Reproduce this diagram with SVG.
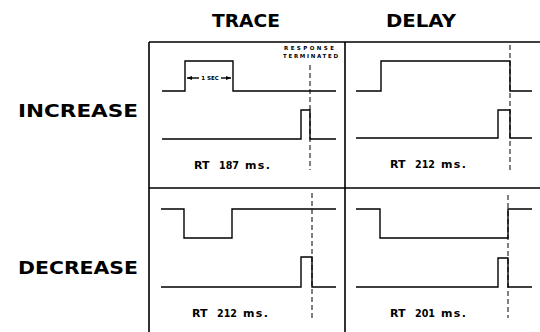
<svg xmlns="http://www.w3.org/2000/svg" width="540" height="332" viewBox="0 0 540 332">
<style>
.hd{font-family:"DejaVu Sans",Verdana,sans-serif;font-weight:bold;font-size:18px;fill:#000}
.rl{font-family:"DejaVu Sans",Verdana,sans-serif;font-weight:bold;font-size:17px;fill:#000}
.rt{font-family:"DejaVu Sans",Verdana,sans-serif;font-weight:bold;font-size:11px;fill:#000}
.sm{font-family:"DejaVu Sans",Verdana,sans-serif;font-weight:bold;font-size:5.5px;fill:#000}
.grid{stroke:#000;stroke-width:1.6;fill:none}
.tr{stroke:#000;stroke-width:1.4;fill:none}
.ds{stroke:#000;stroke-width:1;fill:none;stroke-dasharray:5,3}
</style>
<defs>
<marker id="ah" markerWidth="6" markerHeight="6" refX="5" refY="3" orient="auto" markerUnits="userSpaceOnUse">
<path d="M0,1 L5,3 L0,5" fill="#000"/>
</marker>
</defs>
<rect width="540" height="332" fill="#fff"/>
<g id="headers">
<text class="hd" x="212" y="27" textLength="68" lengthAdjust="spacingAndGlyphs">TRACE</text>
<text class="hd" x="386" y="27" textLength="70" lengthAdjust="spacingAndGlyphs">DELAY</text>
<text class="rl" x="18" y="117" textLength="120" lengthAdjust="spacingAndGlyphs">INCREASE</text>
<text class="rl" x="18" y="274" textLength="120" lengthAdjust="spacingAndGlyphs">DECREASE</text>
</g>
<g id="grid">
<path class="grid" d="M149,42 H540 M149,42 V332 M345,42 V332 M149,188 H540"/>
</g>
<g id="trace-increase">
<path class="tr" d="M162,91 H185 V61 H233 V91 H336"/>
<path class="tr" d="M162,139 H301 V110 H310 V139 H336"/>
<path class="ds" d="M310,65 V170"/>
<path class="tr" d="M199,78 H187" marker-end="url(#ah)" stroke-width="1"/>
<path class="tr" d="M221,78 H231" marker-end="url(#ah)" stroke-width="1"/>
<text class="sm" x="210" y="80" text-anchor="middle">1 SEC</text>
<text class="sm" x="284" y="50" textLength="50" lengthAdjust="spacing">RESPONSE</text>
<text class="sm" x="283" y="58" textLength="55" lengthAdjust="spacing">TERMINATED</text>
<text class="rt" x="194" y="169">RT</text>
<text class="rt" x="219" y="169" textLength="20" lengthAdjust="spacingAndGlyphs">187</text>
<text class="rt" x="245" y="169" textLength="25" lengthAdjust="spacing">ms.</text>
</g>
<g id="delay-increase">
<path class="tr" d="M356,91 H381 V61 H510 V91 H532"/>
<path class="tr" d="M356,138 H498 V110 H510 V138 H532"/>
<path class="ds" d="M510,45 V170"/>
<text class="rt" x="390" y="168">RT</text>
<text class="rt" x="415" y="168" textLength="20" lengthAdjust="spacingAndGlyphs">212</text>
<text class="rt" x="441" y="168" textLength="25" lengthAdjust="spacing">ms.</text>
</g>
<g id="trace-decrease">
<path class="tr" d="M161,209 H184 V238 H232 V209 H336"/>
<path class="tr" d="M161,287 H301 V257 H312 V287 H336"/>
<path class="ds" d="M312,193 V318"/>
<text class="rt" x="192" y="317">RT</text>
<text class="rt" x="217" y="317" textLength="20" lengthAdjust="spacingAndGlyphs">212</text>
<text class="rt" x="243" y="317" textLength="25" lengthAdjust="spacing">ms.</text>
</g>
<g id="delay-decrease">
<path class="tr" d="M356,209 H380 V238 H508 V209 H532"/>
<path class="tr" d="M356,287 H498 V258 H508 V287 H532"/>
<path class="ds" d="M508,195 V318"/>
<text class="rt" x="390" y="317">RT</text>
<text class="rt" x="415" y="317" textLength="20" lengthAdjust="spacingAndGlyphs">201</text>
<text class="rt" x="441" y="317" textLength="25" lengthAdjust="spacing">ms.</text>
</g>
</svg>
